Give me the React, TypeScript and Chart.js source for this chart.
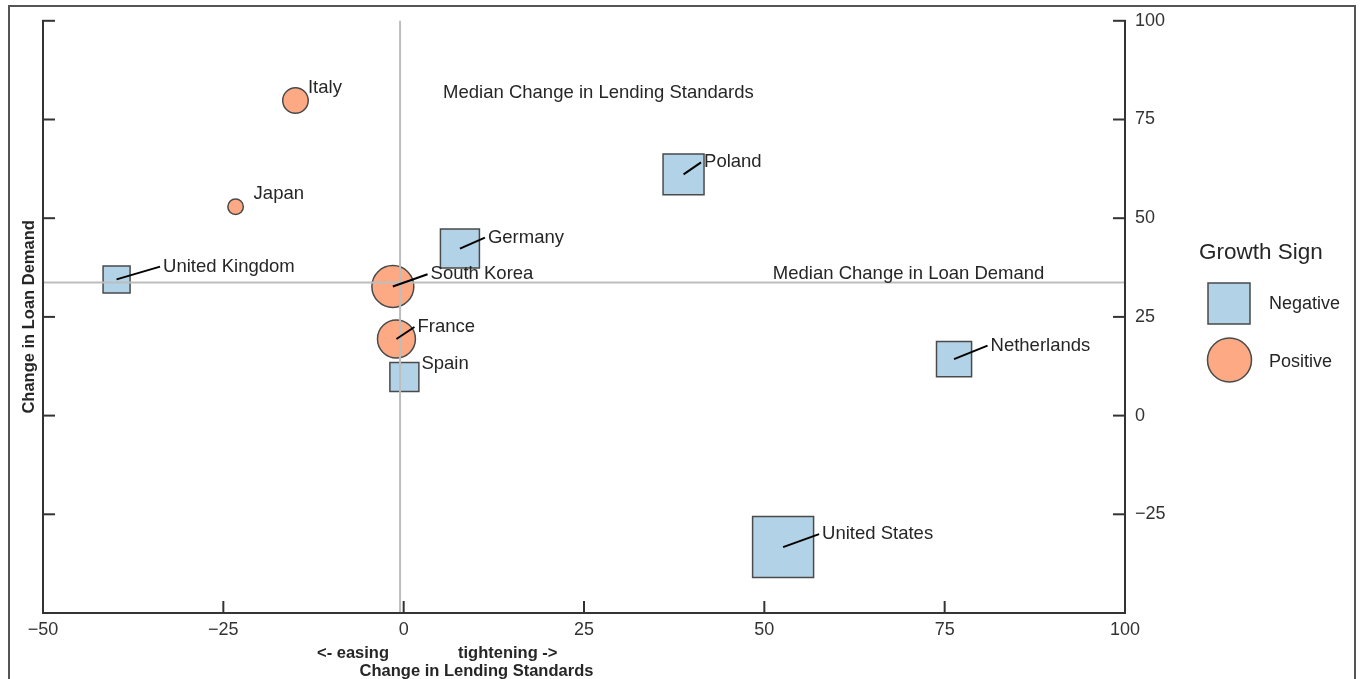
import React, { useEffect, useRef } from "react";
import { Chart, registerables } from "chart.js";

Chart.register(...registerables);

// ---------- data ----------
const countries = [
  "Italy",
  "Japan",
  "United Kingdom",
  "South Korea",
  "France",
  "Spain",
  "Germany",
  "Poland",
  "Netherlands",
  "United States",
];
const lendingChange = [-15.0, -23.3, -39.8, -1.5, -1.0, 0.1, 7.8, 38.8, 76.3, 52.6];
const demandChange = [79.8, 52.9, 34.5, 32.7, 19.4, 9.8, 42.3, 61.1, 14.3, -33.3];
const growthMagnitude = [6.5, 2.4, 7.3, 17.6, 14.4, 8.4, 15.2, 16.8, 12.3, 37.2];
const growthSign = [
  "Positive",
  "Positive",
  "Negative",
  "Positive",
  "Positive",
  "Negative",
  "Negative",
  "Negative",
  "Negative",
  "Negative",
];
const medianLending = -0.5;
const medianDemand = 33.7;
const xTicks = [-50, -25, 0, 25, 50, 75, 100];
const yTicks = [-50, -25, 0, 25, 50, 75, 100];
const legendTitle = "Growth Sign";
const legendItems = ["Negative", "Positive"];

// ---------- styling ----------
const FONT = '"Liberation Sans", Arial, Helvetica, sans-serif';
const BLUE = "#b2d3e7";
const ORANGE = "#fdaa84";
const EDGE = "#4a4a4a";
const TEXT = "#262626";

// label placement (pixel offsets from marker centre) and whether a leader line is drawn
const labelOffsets: { dx: number; dy: number; leader: boolean }[] = [
  { dx: 12.5, dy: -13, leader: false },
  { dx: 18, dy: -12.8, leader: false },
  { dx: 46.5, dy: -12.8, leader: true },
  { dx: 37.7, dy: -12.2, leader: true },
  { dx: 21, dy: -12, leader: true },
  { dx: 17, dy: -12.7, leader: false },
  { dx: 28, dy: -11, leader: true },
  { dx: 20.5, dy: -12, leader: true },
  { dx: 36.5, dy: -13.5, leader: true },
  { dx: 39, dy: -13, leader: true },
];

const fmt = (v: number) => (v < 0 ? "\u2212" + Math.abs(v) : String(v));
const diameter = (m: number) => 10 * Math.sqrt(m);

function buildPoints(sign: string) {
  const pts: { x: number; y: number; r: number }[] = [];
  countries.forEach((_, i) => {
    if (growthSign[i] !== sign) return;
    const d = diameter(growthMagnitude[i]);
    pts.push({
      x: lendingChange[i],
      y: demandChange[i],
      r: sign === "Negative" ? d / Math.SQRT2 : d / 2,
    });
  });
  return pts;
}

const overlayPlugin = {
  id: "overlay",
  beforeDraw(chart: any) {
    const { ctx, width, height } = chart;
    ctx.save();
    ctx.fillStyle = "#ffffff";
    ctx.fillRect(0, 0, width, height);
    ctx.strokeStyle = "#555555";
    ctx.lineWidth = 2;
    ctx.strokeRect(9, 6, 1346, 720);
    ctx.restore();
  },
  afterDatasetsDraw(chart: any) {
    const { ctx } = chart;
    const xs = chart.scales.x;
    const ys = chart.scales.y;
    const { left, right, top, bottom } = chart.chartArea;
    const line = (x1: number, y1: number, x2: number, y2: number) => {
      ctx.beginPath();
      ctx.moveTo(x1, y1);
      ctx.lineTo(x2, y2);
      ctx.stroke();
    };
    ctx.save();

    // median reference lines
    ctx.strokeStyle = "#bdbdbd";
    ctx.lineWidth = 2;
    const mx = xs.getPixelForValue(medianLending);
    const my = ys.getPixelForValue(medianDemand);
    line(mx, top, mx, bottom);
    line(left, my, right, my);

    // axes frame (left, bottom, right)
    ctx.strokeStyle = "#333333";
    ctx.lineWidth = 2;
    ctx.beginPath();
    ctx.moveTo(left, top);
    ctx.lineTo(left, bottom);
    ctx.lineTo(right, bottom);
    ctx.lineTo(right, top);
    ctx.stroke();
    const tl = 12;
    yTicks.forEach((v) => {
      const py = ys.getPixelForValue(v);
      line(left - 1, py, left + tl, py);
      line(right + 1, py, right - tl, py);
    });
    xTicks.forEach((v) => {
      const px = xs.getPixelForValue(v);
      line(px, bottom + 1, px, bottom - tl);
    });

    // leader lines + labels
    ctx.font = `18.5px ${FONT}`;
    ctx.textAlign = "left";
    ctx.textBaseline = "middle";
    countries.forEach((name, i) => {
      const cx = xs.getPixelForValue(lendingChange[i]);
      const cy = ys.getPixelForValue(demandChange[i]);
      const o = labelOffsets[i];
      const lx = cx + o.dx;
      const ly = cy + o.dy;
      if (o.leader) {
        ctx.strokeStyle = "#000000";
        ctx.lineWidth = 2;
        line(cx, cy, lx - 3, ly);
      }
      ctx.fillStyle = TEXT;
      ctx.fillText(name, lx, ly);
    });

    // median annotations
    ctx.textAlign = "center";
    ctx.fillStyle = TEXT;
    ctx.fillText(
      "Median Change in Lending Standards",
      xs.getPixelForValue(27),
      ys.getPixelForValue(81.7)
    );
    ctx.fillText(
      "Median Change in Loan Demand",
      xs.getPixelForValue(70),
      ys.getPixelForValue(36)
    );

    // axis titles
    ctx.font = `bold 16.5px ${FONT}`;
    ctx.fillStyle = TEXT;
    ctx.textAlign = "left";
    ctx.fillText("<- easing", 317, 653);
    ctx.fillText("tightening ->", 458, 653);
    ctx.textAlign = "center";
    ctx.fillText("Change in Lending Standards", 476.5, 671);
    ctx.save();
    ctx.translate(29.5, (top + bottom) / 2);
    ctx.rotate(-Math.PI / 2);
    ctx.fillText("Change in Loan Demand", 0, 0);
    ctx.restore();

    // legend
    ctx.textAlign = "left";
    ctx.textBaseline = "middle";
    ctx.font = `22.5px ${FONT}`;
    ctx.fillStyle = TEXT;
    ctx.fillText(legendTitle, 1199, 253);
    ctx.lineWidth = 1.5;
    ctx.strokeStyle = EDGE;
    ctx.fillStyle = BLUE;
    ctx.beginPath();
    ctx.rect(1208, 283, 42, 41);
    ctx.fill();
    ctx.stroke();
    ctx.fillStyle = ORANGE;
    ctx.beginPath();
    ctx.arc(1229.5, 360, 22, 0, Math.PI * 2);
    ctx.fill();
    ctx.stroke();
    ctx.font = `18px ${FONT}`;
    ctx.fillStyle = TEXT;
    ctx.fillText(legendItems[0], 1269, 304);
    ctx.fillText(legendItems[1], 1269, 362);

    ctx.restore();
  },
};

export default function App() {
  const canvasRef = useRef<HTMLCanvasElement | null>(null);

  useEffect(() => {
    if (!canvasRef.current) return;
    const tickFont = { family: FONT, size: 18 };
    const chart = new Chart(canvasRef.current, {
      type: "bubble",
      data: {
        datasets: [
          {
            label: "Negative",
            data: buildPoints("Negative"),
            pointStyle: "rect",
            backgroundColor: BLUE,
            borderColor: EDGE,
            borderWidth: 1.5,
            yAxisID: "y",
          },
          {
            label: "Positive",
            data: buildPoints("Positive"),
            pointStyle: "circle",
            backgroundColor: ORANGE,
            borderColor: EDGE,
            borderWidth: 1.5,
            yAxisID: "y",
          },
        ],
      },
      options: {
        responsive: true,
        maintainAspectRatio: false,
        animation: false,
        events: [],
        layout: { autoPadding: false, padding: { top: 19, left: 0, right: 0, bottom: 0 } },
        plugins: {
          legend: { display: false },
          tooltip: { enabled: false },
          title: { display: false },
        },
        scales: {
          x: {
            type: "linear",
            position: "bottom",
            min: -50,
            max: 100,
            afterBuildTicks: (s: any) => {
              s.ticks = xTicks.map((v) => ({ value: v }));
            },
            ticks: {
              font: tickFont,
              color: "#333333",
              padding: 6,
              autoSkip: false,
              maxRotation: 0,
              callback: (v: any) => fmt(Number(v)),
            },
            grid: { display: false, drawTicks: false },
            border: { display: false },
            afterFit: (s: any) => {
              s.height = 66;
            },
          },
          y: {
            type: "linear",
            position: "left",
            min: -50,
            max: 100,
            ticks: { display: false },
            grid: { display: false, drawTicks: false },
            border: { display: false },
            afterFit: (s: any) => {
              s.width = 43;
            },
          },
          y2: {
            type: "linear",
            position: "right",
            min: -50,
            max: 100,
            afterBuildTicks: (s: any) => {
              s.ticks = yTicks.map((v) => ({ value: v }));
            },
            ticks: {
              font: tickFont,
              color: "#333333",
              padding: 10,
              autoSkip: false,
              callback: (v: any) => (Number(v) === -50 ? "" : fmt(Number(v))),
            },
            grid: { display: false, drawTicks: false },
            border: { display: false },
            afterFit: (s: any) => {
              s.width = 236;
            },
          },
        },
      } as any,
      plugins: [overlayPlugin],
    });
    return () => chart.destroy();
  }, []);

  return (
    <div
      style={{
        position: "fixed",
        left: 0,
        top: 0,
        width: 1361,
        height: 679,
        background: "#fff",
      }}
    >
      <canvas ref={canvasRef} />
    </div>
  );
}
